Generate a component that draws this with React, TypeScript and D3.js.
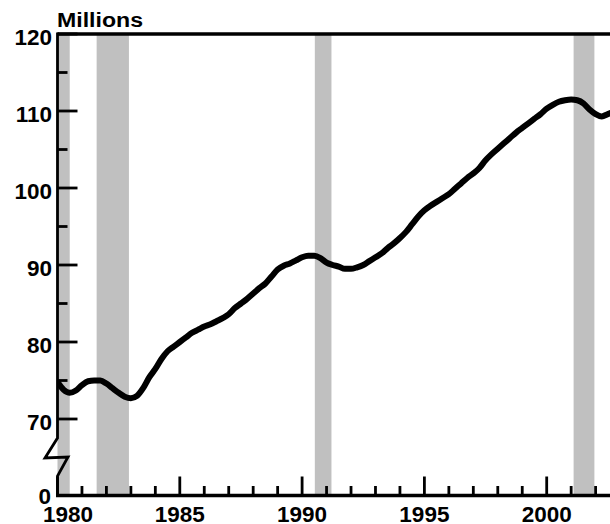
import React from "react";
import * as d3 from "d3";

const years = [
  1980.0, 1980.25, 1980.5, 1980.75, 1981.0, 1981.25, 1981.5, 1981.75,
  1982.0, 1982.25, 1982.5, 1982.75, 1983.0, 1983.25, 1983.5, 1983.75,
  1984.0, 1984.25, 1984.5, 1984.75, 1985.0, 1985.25, 1985.5, 1985.75,
  1986.0, 1986.25, 1986.5, 1986.75, 1987.0, 1987.25, 1987.5, 1987.75,
  1988.0, 1988.25, 1988.5, 1988.75, 1989.0, 1989.25, 1989.5, 1989.75,
  1990.0, 1990.25, 1990.5, 1990.75, 1991.0, 1991.25, 1991.5, 1991.75,
  1992.0, 1992.25, 1992.5, 1992.75, 1993.0, 1993.25, 1993.5, 1993.75,
  1994.0, 1994.25, 1994.5, 1994.75, 1995.0, 1995.25, 1995.5, 1995.75,
  1996.0, 1996.25, 1996.5, 1996.75, 1997.0, 1997.25, 1997.5, 1997.75,
  1998.0, 1998.25, 1998.5, 1998.75, 1999.0, 1999.25, 1999.5, 1999.75,
  2000.0, 2000.25, 2000.5, 2000.75, 2001.0, 2001.25, 2001.5, 2001.75,
  2002.0, 2002.25, 2002.5, 2002.75,
];

const millions = [
  74.8, 73.8, 73.4, 73.7, 74.4, 74.9, 75.0, 75.0,
  74.6, 74.0, 73.4, 72.9, 72.7, 73.0, 74.0, 75.4,
  76.5, 77.8, 78.8, 79.4, 80.0, 80.6, 81.2, 81.6,
  82.0, 82.3, 82.7, 83.1, 83.6, 84.4, 85.0, 85.6,
  86.3, 87.0, 87.6, 88.5, 89.4, 89.9, 90.2, 90.6,
  91.0, 91.2, 91.2, 90.9, 90.3, 90.0, 89.8, 89.5,
  89.5, 89.7, 90.0, 90.5, 91.0, 91.5, 92.2, 92.8,
  93.5, 94.3, 95.3, 96.3, 97.1, 97.7, 98.2, 98.7,
  99.2, 99.9, 100.6, 101.3, 101.9, 102.6, 103.6, 104.4,
  105.1, 105.8, 106.5, 107.2, 107.8, 108.4, 109.0, 109.6,
  110.3, 110.8, 111.2, 111.4, 111.5, 111.4, 111.0, 110.2,
  109.6, 109.3, 109.6, 109.9,
];

const recessionStarts = [1980.0, 1981.6, 1990.52, 2001.1];
const recessionEnds = [1980.5, 1982.92, 1991.2, 2001.95];

const yMajorTicks = [70, 80, 90, 100, 110, 120];
const yMinorTicks = [75, 85, 95, 105, 115];
const xMajorTicks = [1980, 1985, 1990, 1995, 2000];
const xMinorTicks = [
  1981, 1982, 1983, 1984, 1986, 1987, 1988, 1989, 1991, 1992, 1993, 1994,
  1996, 1997, 1998, 1999, 2001, 2002,
];

const W = 610;
const H = 524;
const FONT = "'Liberation Sans', Arial, sans-serif";

export default function App() {
  const x = d3.scaleLinear().domain([1980, 2000]).range([57.5, 546.7]);
  const y = d3.scaleLinear().domain([70, 120]).range([419, 34]);
  const axisX = 57.5;
  const bottomY = 495.5;
  const topY = 34;

  const data = years.map((yr, i) => ({ yr, v: millions[i] }));
  const line = d3
    .line<{ yr: number; v: number }>()
    .x((d) => x(d.yr))
    .y((d) => y(d.v))
    .curve(d3.curveMonotoneX);

  return (
    <svg
      width={W}
      height={H}
      style={{ position: "absolute", left: 0, top: 0, background: "#fff" }}
    >
      <defs>
        <clipPath id="plot">
          <rect x={axisX} y={topY} width={W - axisX} height={bottomY - topY} />
        </clipPath>
      </defs>
      {recessionStarts.map((s, i) => (
        <rect
          key={i}
          x={x(s)}
          y={topY}
          width={x(recessionEnds[i]) - x(s)}
          height={bottomY - topY}
          fill="#c0c0c0"
        />
      ))}
      <path
        d={line(data) || ""}
        fill="none"
        stroke="#000"
        strokeWidth={6}
        strokeLinejoin="round"
        clipPath="url(#plot)"
      />
      <line x1={axisX} x2={W} y1={topY} y2={topY} stroke="#000" strokeWidth={3.4} />
      <line x1={axisX - 1.5} x2={W} y1={bottomY} y2={bottomY} stroke="#000" strokeWidth={3.5} />
      <path
        d={`M${axisX},${topY - 1.5} L${axisX},438 L45,458 L68,457 L${axisX},476 L${axisX},${bottomY + 1.5}`}
        fill="none"
        stroke="#000"
        strokeWidth={2.8}
        strokeLinejoin="miter"
      />
      {yMajorTicks.map((t) => (
        <line key={"ym" + t} x1={axisX} x2={axisX + 20} y1={y(t)} y2={y(t)} stroke="#000" strokeWidth={2.8} />
      ))}
      {yMinorTicks.map((t) => (
        <line key={"yn" + t} x1={axisX} x2={axisX + 10} y1={y(t)} y2={y(t)} stroke="#000" strokeWidth={2.8} />
      ))}
      {xMajorTicks.map((t) => (
        <line key={"xm" + t} x1={x(t)} x2={x(t)} y1={bottomY} y2={bottomY - 19} stroke="#000" strokeWidth={2.8} />
      ))}
      {xMinorTicks.map((t) => (
        <line key={"xn" + t} x1={x(t)} x2={x(t)} y1={bottomY} y2={bottomY - 9.5} stroke="#000" strokeWidth={2.8} />
      ))}
      <g fontFamily={FONT} fontWeight="bold" fontSize={22.5} fill="#000">
        {yMajorTicks.map((t) => (
          <text key={"yl" + t} x={52} y={y(t) + 10.5} textAnchor="end">
            {t}
          </text>
        ))}
        <text x={51} y={bottomY + 8} textAnchor="end">
          0
        </text>
        {xMajorTicks.map((t) => (
          <text key={"xl" + t} x={t === 1980 ? 68 : x(t)} y={522} textAnchor="middle">
            {t}
          </text>
        ))}
        <text x={57} y={27} fontSize={20} textLength={86} lengthAdjust="spacingAndGlyphs">
          Millions
        </text>
      </g>
    </svg>
  );
}
